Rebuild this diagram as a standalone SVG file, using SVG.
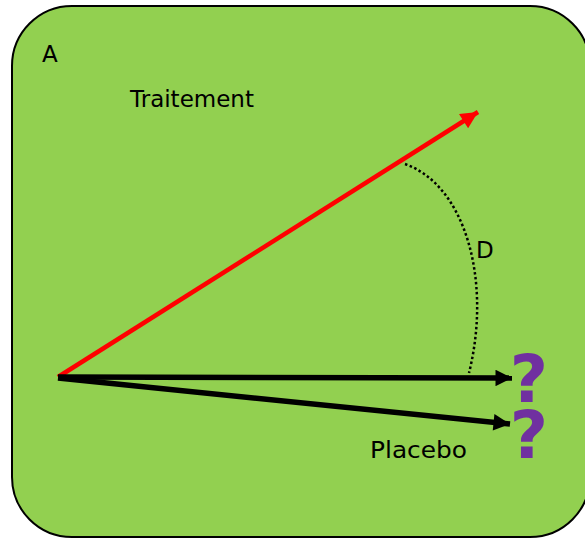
<svg xmlns="http://www.w3.org/2000/svg" width="585" height="540" viewBox="0 0 585 540">
<style>
.lbl{font-family:"DejaVu Sans",Verdana,sans-serif;font-size:23px;fill:#000}
.q{font-family:"DejaVu Sans",Verdana,sans-serif;font-size:66px;font-weight:bold;fill:#7030A0;text-anchor:middle}
</style>
<defs>
<marker id="ah-red" viewBox="0 0 10 10" refX="10" refY="5" markerWidth="4.4" markerHeight="3.8" markerUnits="strokeWidth" orient="auto"><path d="M0,0 L10,5 L0,10 z" fill="#FF0000"/></marker>
<marker id="ah-blk" viewBox="0 0 10 10" refX="10" refY="5" markerWidth="3.2" markerHeight="3" markerUnits="strokeWidth" orient="auto"><path d="M0,0 L10,5 L0,10 z" fill="#000"/></marker>
</defs>
<g id="panel">
<rect x="12" y="6" width="578" height="531" rx="60" ry="60" fill="#92D050" stroke="#000" stroke-width="2"/>
<text class="lbl" x="42" y="62">A</text>
</g>
<g id="connectors">
<line x1="58" y1="377" x2="478" y2="112" stroke="#FF0000" stroke-width="4.5" marker-end="url(#ah-red)"/>
<line x1="58" y1="377" x2="512" y2="378" stroke="#000" stroke-width="5.5" marker-end="url(#ah-blk)"/>
<line x1="58" y1="378" x2="510" y2="424" stroke="#000" stroke-width="5.5" marker-end="url(#ah-blk)"/>
<path d="M405,164 C465,185 492,280 469,373" fill="none" stroke="#000" stroke-width="2.5" stroke-dasharray="2.5 2.5"/>
</g>
<g id="traitement"><text class="lbl" x="130" y="107">Traitement</text></g>
<g id="placebo"><text class="lbl" x="370" y="458" textLength="97" lengthAdjust="spacingAndGlyphs">Placebo</text></g>
<g id="d"><text class="lbl" x="476" y="258">D</text></g>
<g id="q1"><text class="q" x="529" y="402">?</text></g>
<g id="q2"><text class="q" x="529" y="458">?</text></g>
</svg>
